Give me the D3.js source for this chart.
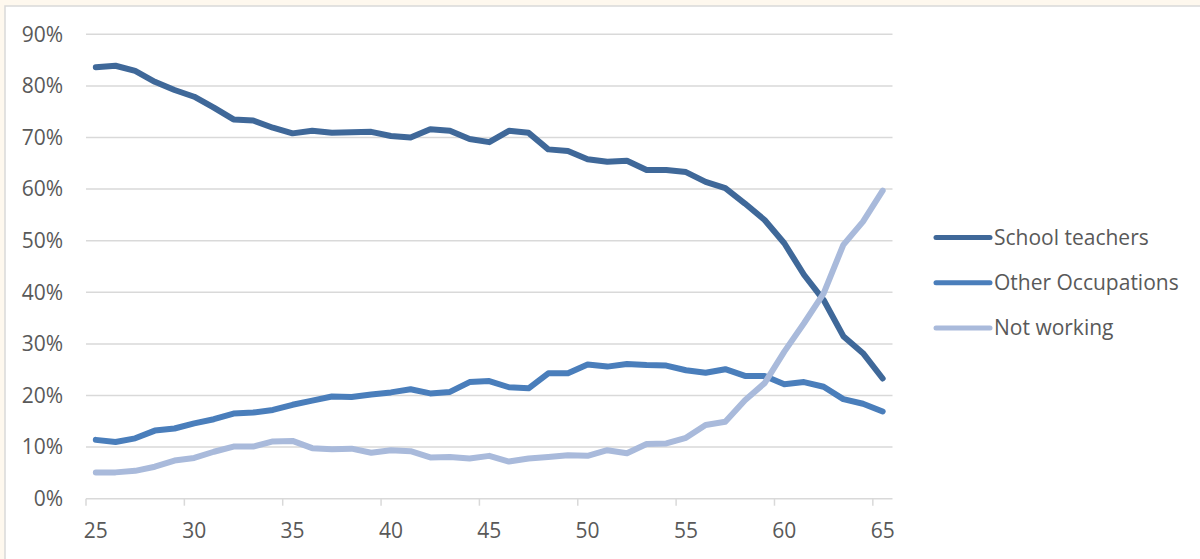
<!DOCTYPE html>
<html>
<head>
<meta charset="utf-8">
<script src="https://cdn.jsdelivr.net/npm/d3@7"></script>
<style>
  html, body { margin: 0; padding: 0; background: #fef8ee; }
  svg { display: block; }
  text { font-family: "Open Sans", "Noto Sans", sans-serif; fill: #595959; }
</style>
</head>
<body>
<svg id="chart" width="1200" height="559"></svg>
<script>
// Ages on the category axis
const ages = d3.range(25, 66);

// Share of each cohort by status, in percent
const schoolTeachers = [
  83.6, 83.9, 82.9, 80.8, 79.2, 77.9, 75.8, 73.5, 73.3, 71.9,
  70.8, 71.3, 70.9, 71.0, 71.1, 70.3, 70.0, 71.6, 71.3, 69.7,
  69.1, 71.3, 70.9, 67.7, 67.4, 65.8, 65.3, 65.5, 63.7, 63.7,
  63.3, 61.4, 60.2, 57.2, 54.0, 49.5, 43.4, 38.5, 31.5, 28.2,
  23.3
];
const otherOccupations = [
  11.4, 11.0, 11.7, 13.2, 13.6, 14.6, 15.4, 16.5, 16.7, 17.2,
  18.2, 19.0, 19.8, 19.7, 20.2, 20.6, 21.2, 20.4, 20.7, 22.6,
  22.8, 21.6, 21.4, 24.3, 24.3, 26.0, 25.6, 26.1, 25.9, 25.8,
  24.9, 24.4, 25.1, 23.8, 23.8, 22.2, 22.6, 21.7, 19.3, 18.4,
  16.9
];
const notWorking = [
  5.1, 5.1, 5.4, 6.2, 7.4, 7.9, 9.1, 10.1, 10.1, 11.1,
  11.2, 9.8, 9.6, 9.7, 8.9, 9.4, 9.2, 8.0, 8.1, 7.8,
  8.3, 7.2, 7.8, 8.1, 8.4, 8.3, 9.4, 8.8, 10.6, 10.7,
  11.8, 14.3, 14.9, 19.1, 22.4, 28.5, 34.0, 39.8, 49.2, 53.7,
  59.7
];

const seriesNames = ["School teachers", "Other Occupations", "Not working"];
const seriesColors = ["#3f6899", "#4a7ebb", "#a9badb"];
const seriesValues = [schoolTeachers, otherOccupations, notWorking];

const yTicks = [0, 10, 20, 30, 40, 50, 60, 70, 80, 90];
const xTickLabels = [25, 30, 35, 40, 45, 50, 55, 60, 65];

const FONT = 21;
const svg = d3.select("#chart");

// Chart area panel
svg.append("rect")
  .attr("x", 5).attr("y", 6)
  .attr("width", 1200).attr("height", 560)
  .attr("fill", "#ffffff")
  .attr("stroke", "#d9d9d9")
  .attr("stroke-width", 1.5);

const plot = { left: 86, right: 892.5, top: 34.3, bottom: 498.7 };

const x = d3.scaleBand()
  .domain(ages)
  .range([plot.left, plot.right])
  .paddingInner(0).paddingOuter(0);

const y = d3.scaleLinear()
  .domain([0, 90])
  .range([plot.bottom, plot.top]);

// Horizontal gridlines
svg.append("g")
  .selectAll("line")
  .data(yTicks.filter(t => t > 0))
  .join("line")
  .attr("x1", plot.left).attr("x2", plot.right)
  .attr("y1", d => y(d)).attr("y2", d => y(d))
  .attr("stroke", "#d9d9d9")
  .attr("stroke-width", 1.5);

// Y axis labels
const yAxis = d3.axisLeft(y)
  .tickValues(yTicks)
  .tickFormat(d => d + "%")
  .tickSize(0)
  .tickPadding(23);
const gy = svg.append("g")
  .attr("transform", `translate(${plot.left},0)`)
  .call(yAxis);
gy.select(".domain").remove();
gy.selectAll("text")
  .attr("font-size", FONT)
  .attr("fill", "#595959")
  .style("font-family", '"Open Sans", "Noto Sans", sans-serif');

// X axis: line at 0%, tick marks on category boundaries every 5 years
const gx = svg.append("g");
gx.append("line")
  .attr("x1", plot.left).attr("x2", plot.right)
  .attr("y1", y(0)).attr("y2", y(0))
  .attr("stroke", "#d9d9d9")
  .attr("stroke-width", 1.5);
gx.selectAll("line.tick")
  .data(xTickLabels)
  .join("line")
  .attr("class", "tick")
  .attr("x1", d => x(d)).attr("x2", d => x(d))
  .attr("y1", y(0)).attr("y2", y(0) + 7)
  .attr("stroke", "#d9d9d9")
  .attr("stroke-width", 1.5);
gx.selectAll("text")
  .data(xTickLabels)
  .join("text")
  .attr("x", d => x(d) + x.bandwidth() / 2)
  .attr("y", y(0) + 39)
  .attr("text-anchor", "middle")
  .attr("font-size", FONT)
  .text(d => d);

// Series lines
const line = d3.line()
  .x((d, i) => x(ages[i]) + x.bandwidth() / 2)
  .y(d => y(d));

svg.append("g")
  .selectAll("path")
  .data(seriesValues)
  .join("path")
  .attr("d", d => line(d))
  .attr("fill", "none")
  .attr("stroke", (d, i) => seriesColors[i])
  .attr("stroke-width", 6)
  .attr("stroke-linejoin", "round")
  .attr("stroke-linecap", "round");

// Legend
const legend = svg.append("g")
  .selectAll("g")
  .data(seriesNames)
  .join("g")
  .attr("transform", (d, i) => `translate(936,${237.5 + i * 45.2})`);
legend.append("line")
  .attr("x1", 0).attr("x2", 54)
  .attr("y1", 0).attr("y2", 0)
  .attr("stroke", (d, i) => seriesColors[i])
  .attr("stroke-width", 5)
  .attr("stroke-linecap", "round");
legend.append("text")
  .attr("x", 58)
  .attr("y", 0)
  .attr("dy", "0.35em")
  .attr("font-size", FONT)
  .text(d => d);
</script>
</body>
</html>
